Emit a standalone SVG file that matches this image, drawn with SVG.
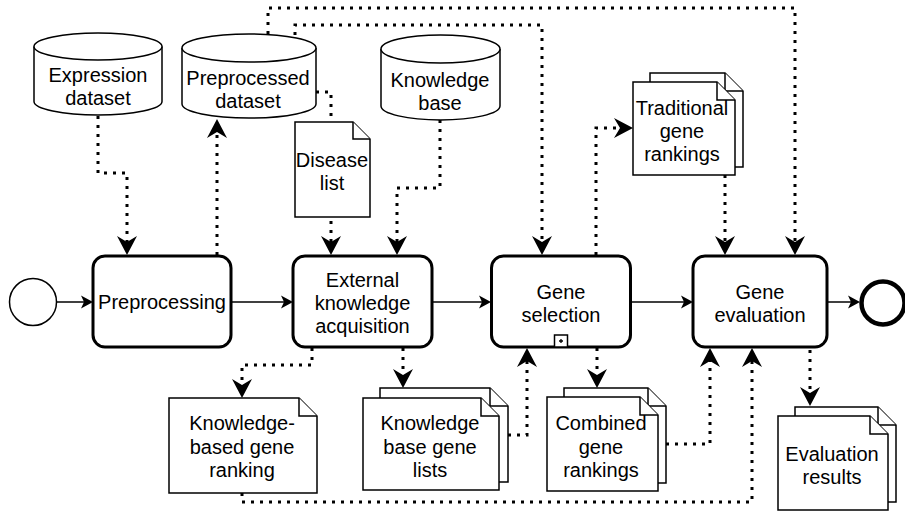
<svg xmlns="http://www.w3.org/2000/svg" width="905" height="512" viewBox="0 0 905 512">
<defs>
<style>
text{font-family:"Liberation Sans",Arial,sans-serif;font-size:20px;fill:#000;text-anchor:middle}
.task{fill:#fff;stroke:#000;stroke-width:3}
.shape{fill:#fff;stroke:#000;stroke-width:1.5;stroke-linejoin:miter}
.dot{fill:none;stroke:#000;stroke-width:3;stroke-dasharray:3 6;marker-end:url(#ad)}
.flow{fill:none;stroke:#000;stroke-width:1.5;marker-end:url(#af)}
</style>
<marker id="ad" viewBox="-12 -11 23 22" refX="0" refY="0" markerWidth="23" markerHeight="22" markerUnits="userSpaceOnUse" orient="auto">
<path d="M10,0 L-9,-10 L-3,0 L-9,10 Z" fill="#000"/>
</marker>
<marker id="af" viewBox="-8 -8 16 16" refX="0" refY="0" markerWidth="16" markerHeight="16" markerUnits="userSpaceOnUse" orient="auto">
<path d="M6,0 L-6,-6.5 L-3,0 L-6,6.5 Z" fill="#000"/>
</marker>
</defs>
<rect width="905" height="512" fill="#fff"/>

<g id="connectors">
<path class="dot" d="M98,116 V173 H127 V245"/>
<path class="dot" d="M217,255 V129"/>
<path class="dot" d="M316,92 H331 V245"/>
<path class="dot" d="M440,120 V188 H397 V245"/>
<path class="dot" d="M268,34 V8 H795 V245"/>
<path class="dot" d="M295,35 V25 H542 V245"/>
<path class="dot" d="M596,255 V128 H623"/>
<path class="dot" d="M725,175 V245"/>
<path class="dot" d="M312,348 V365 H242 V388"/>
<path class="dot" d="M403,348 V378"/>
<path class="dot" d="M508,435 H527 V358"/>
<path class="dot" d="M597,348 V378"/>
<path class="dot" d="M666,444 H710 V358"/>
<path class="dot" d="M242,493 V502 H752 V358"/>
<path class="dot" d="M810,350 V396"/>
<path class="flow" d="M57,302 H87"/>
<path class="flow" d="M231,302 H287"/>
<path class="flow" d="M432,302 H485"/>
<path class="flow" d="M631,302 H687"/>
<path class="flow" d="M827,302 H854"/>
</g>

<g id="start">
<circle cx="33" cy="302" r="23.5" class="shape"/>
</g>
<g id="end">
<circle cx="883" cy="303" r="21.5" fill="#fff" stroke="#000" stroke-width="4.5"/>
</g>

<g id="preprocessing">
<rect x="93" y="256" width="138" height="91" rx="12" class="task"/>
<text x="162" y="309">Preprocessing</text>
</g>
<g id="external-knowledge-acquisition">
<rect x="293" y="256" width="139" height="91" rx="12" class="task"/>
<text x="362.5" y="287">External<tspan x="362.5" dy="23">knowledge</tspan><tspan x="362.5" dy="23">acquisition</tspan></text>
</g>
<g id="gene-selection">
<rect x="491.5" y="256" width="139" height="91" rx="12" class="task"/>
<text x="561" y="299">Gene<tspan x="561" dy="23">selection</tspan></text>
<rect x="554.5" y="335" width="13" height="12" class="shape"/>
<path d="M559,341 H563 M561,339 V343" stroke="#000" stroke-width="1.3"/>
</g>
<g id="gene-evaluation">
<rect x="693" y="256" width="134" height="91" rx="12" class="task"/>
<text x="760" y="299">Gene<tspan x="760" dy="23">evaluation</tspan></text>
</g>

<g id="expression-dataset">
<path class="shape" d="M34,46.5 V101.5 A64,13.5 0 0 0 162,101.5 V46.5"/>
<ellipse cx="98" cy="46.5" rx="64" ry="13.5" class="shape"/>
<text x="98" y="82">Expression<tspan x="98" dy="23">dataset</tspan></text>
</g>
<g id="preprocessed-dataset">
<path class="shape" d="M182,48 V104 A67,14 0 0 0 316,104 V48"/>
<ellipse cx="249" cy="48" rx="67" ry="14" class="shape"/>
<text x="248" y="85">Preprocessed<tspan x="248" dy="23">dataset</tspan></text>
</g>
<g id="knowledge-base">
<path class="shape" d="M381,49 V106 A59.5,14 0 0 0 500,106 V49"/>
<ellipse cx="440.5" cy="49" rx="59.5" ry="14" class="shape"/>
<text x="440" y="87">Knowledge<tspan x="440" dy="23">base</tspan></text>
</g>

<g id="disease-list">
<path class="shape" d="M295,122 H353 L370,139 V217 H295 Z"/>
<path class="shape" fill="none" d="M353,122 V139 H370"/>
<text x="332" y="167">Disease<tspan x="332" dy="23">list</tspan></text>
</g>

<g id="traditional-gene-rankings">
<path class="shape" d="M650,73 H725 L743,91 V167 H650 Z"/>
<path class="shape" fill="none" d="M725,73 V91 H743"/>
<path class="shape" d="M633,82 H717 L735,100 V175 H633 Z"/>
<path class="shape" fill="none" d="M717,82 V100 H735"/>
<text x="682" y="115">Traditional<tspan x="682" dy="23">gene</tspan><tspan x="682" dy="23">rankings</tspan></text>
</g>

<g id="knowledge-based-gene-ranking">
<path class="shape" d="M169,398 H299 L317,416 V493 H169 Z"/>
<path class="shape" fill="none" d="M299,398 V416 H317"/>
<text x="242" y="430">Knowledge-<tspan x="242" dy="23.5">based gene</tspan><tspan x="242" dy="23.5">ranking</tspan></text>
</g>

<g id="knowledge-base-gene-lists">
<path class="shape" d="M380,388 H490 L508,406 V482 H380 Z"/>
<path class="shape" fill="none" d="M490,388 V406 H508"/>
<path class="shape" d="M363,398 H481 L499,416 V490 H363 Z"/>
<path class="shape" fill="none" d="M481,398 V416 H499"/>
<text x="430" y="430">Knowledge<tspan x="430" dy="23.5">base gene</tspan><tspan x="430" dy="23.5">lists</tspan></text>
</g>

<g id="combined-gene-rankings">
<path class="shape" d="M564,388 H648 L666,406 V483 H564 Z"/>
<path class="shape" fill="none" d="M648,388 V406 H666"/>
<path class="shape" d="M547,397 H640 L658,415 V491 H547 Z"/>
<path class="shape" fill="none" d="M640,397 V415 H658"/>
<text x="601" y="430">Combined<tspan x="601" dy="23.5">gene</tspan><tspan x="601" dy="23.5">rankings</tspan></text>
</g>

<g id="evaluation-results">
<path class="shape" d="M795,407 H878 L896,425 V502 H795 Z"/>
<path class="shape" fill="none" d="M878,407 V425 H896"/>
<path class="shape" d="M778,416 H870 L888,434 V510 H778 Z"/>
<path class="shape" fill="none" d="M870,416 V434 H888"/>
<text x="832" y="461">Evaluation<tspan x="832" dy="23">results</tspan></text>
</g>
</svg>
